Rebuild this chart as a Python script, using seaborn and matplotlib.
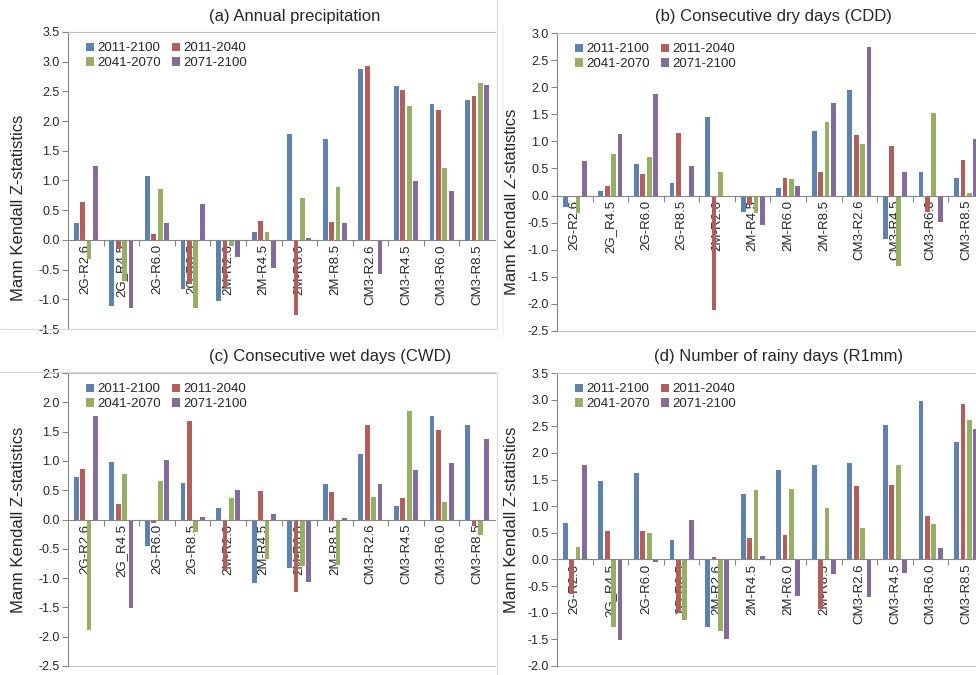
"""Mann Kendall Z-statistics for precipitation indices, four panels."""

import matplotlib
matplotlib.use("Agg")
import matplotlib.pyplot as plt
from matplotlib.lines import Line2D
from matplotlib.ticker import FormatStrFormatter, MultipleLocator
import pandas as pd
import seaborn as sns

CATEGORIES = [
    "2G-R2.6", "2G_R4.5", "2G-R6.0", "2G-R8.5",
    "2M-R2.6", "2M-R4.5", "2M-R6.0", "2M-R8.5",
    "CM3-R2.6", "CM3-R4.5", "CM3-R6.0", "CM3-R8.5",
]
PERIODS = ["2011-2100", "2011-2040", "2041-2070", "2071-2100"]
COLORS = ["#4F81BD", "#C0504D", "#9BBB59", "#8064A2"]

# (a) annual precipitation
annual = {
    "2011-2100": [0.29, -1.11, 1.08, -0.83, -1.03, 0.14, 1.79, 1.70, 2.88, 2.59, 2.29, 2.35],
    "2011-2040": [0.64, -0.15, 0.10, -0.75, -0.80, 0.31, -1.26, 0.30, 2.93, 2.52, 2.18, 2.43],
    "2041-2070": [-0.32, -0.70, 0.85, -1.15, -0.11, 0.14, 0.71, 0.89, -0.02, 2.26, 1.21, 2.64],
    "2071-2100": [1.25, -1.15, 0.28, 0.61, -0.29, -0.47, 0.03, 0.28, -0.58, 0.99, 0.83, 2.60],
}
# (b) consecutive dry days
cdd = {
    "2011-2100": [-0.22, 0.08, 0.58, 0.24, 1.45, -0.31, 0.14, 1.20, 1.94, -0.80, 0.44, 0.33],
    "2011-2040": [0.00, 0.18, 0.40, 1.16, -2.11, -0.17, 0.32, 0.43, 1.11, 0.91, -0.30, 0.65],
    "2041-2070": [-0.33, 0.77, 0.72, 0.00, 0.44, -0.32, 0.30, 1.36, 0.95, -1.30, 1.53, 0.04],
    "2071-2100": [0.63, 1.13, 1.87, 0.55, 0.00, -0.54, 0.18, 1.70, 2.74, 0.44, -0.49, 1.04],
}
# (c) consecutive wet days
cwd = {
    "2011-2100": [0.72, 0.98, -0.45, 0.62, 0.20, -1.09, -0.82, 0.60, 1.12, 0.23, 1.76, 1.62],
    "2011-2040": [0.87, 0.27, -0.06, 1.68, -0.87, 0.48, -1.24, 0.47, 1.62, 0.37, 1.52, -0.11],
    "2041-2070": [-1.88, 0.78, 0.65, -0.22, 0.36, -0.67, -0.80, -0.77, 0.39, 1.85, 0.30, -0.27],
    "2071-2100": [1.76, -1.51, 1.02, 0.05, 0.50, 0.09, -1.06, 0.02, 0.61, 0.85, 0.97, 1.37],
}
# (d) number of rainy days
r1mm = {
    "2011-2100": [0.69, 1.48, 1.63, 0.36, -1.26, 1.22, 1.68, 1.77, 1.81, 2.52, 2.97, 2.20],
    "2011-2040": [-0.64, 0.54, 0.54, -1.00, 0.05, 0.40, 0.45, -0.93, 1.37, 1.39, 0.81, 2.91],
    "2041-2070": [0.24, -1.27, 0.49, -1.13, -1.35, 1.30, 1.32, 0.96, 0.59, 1.78, 0.67, 2.62],
    "2071-2100": [1.77, -1.52, -0.04, 0.74, -1.50, 0.07, -0.69, -0.27, -0.71, -0.25, 0.22, 2.44],
}

PANELS = [
    ("(a) Annual precipitation", annual, (-1.5, 3.5)),
    ("(b) Consecutive dry days (CDD)", cdd, (-2.5, 3.0)),
    ("(c) Consecutive wet days (CWD)", cwd, (-2.5, 2.5)),
    ("(d) Number of rainy days (R1mm)", r1mm, (-2.0, 3.5)),
]

# layout in pixels of the 976x675 canvas: left, top, bottom of each plot area
W, H = 976, 675
BOXES = [(68, 32, 329), (557, 33, 331), (68, 373, 666), (557, 373, 666)]
PLOT_W = 427
TITLE_POS = [(295, 17), (773, 17), (330, 357), (779, 357)]
YLABEL_POS = [(-0.0995, 0.407), (-0.088, 0.433), (-0.0995, 0.5), (-0.088, 0.5)]

GRAY = "#868686"


def to_long(data):
    rows = []
    for period, values in data.items():
        for cat, v in zip(CATEGORIES, values):
            rows.append({"category": cat, "period": period, "z": v})
    return pd.DataFrame(rows)


def main() -> None:
    sns.set_style("white")
    plt.rcParams["font.family"] = ["Liberation Sans", "DejaVu Sans"]

    fig = plt.figure(figsize=(W / 100, H / 100), dpi=100)

    for (title, data, ylim), (left, top, bottom), (tx, ty), (lx, ly) in zip(
        PANELS, BOXES, TITLE_POS, YLABEL_POS
    ):
        ax = fig.add_axes([left / W, 1 - bottom / H, PLOT_W / W, (bottom - top) / H])
        df = to_long(data)
        sns.barplot(
            data=df, x="category", y="z", hue="period",
            order=CATEGORIES, hue_order=PERIODS, palette=COLORS,
            width=0.72, gap=0.25, linewidth=0, ax=ax,
        )
        ax.set_ylim(*ylim)
        ax.set_xlim(-0.5, len(CATEGORIES) - 0.5)
        ax.yaxis.set_major_locator(MultipleLocator(0.5))
        ax.yaxis.set_major_formatter(FormatStrFormatter("%.1f"))
        ax.tick_params(axis="y", labelsize=9, length=4, width=0.8,
                       color=GRAY, pad=2, left=True, direction="out")

        # category axis sits on the zero line
        ax.spines["bottom"].set_position(("data", 0))
        ax.set_xticks(range(len(CATEGORIES)))
        ax.set_xticklabels(CATEGORIES, rotation=90, va="top", ha="center")
        ax.tick_params(axis="x", labelsize=9.5, length=0, pad=3)
        ax.set_xticks([i + 0.5 for i in range(len(CATEGORIES) - 1)], minor=True)
        ax.tick_params(axis="x", which="minor", length=4, width=0.8,
                       color=GRAY, bottom=True, direction="out")

        for side in ["left", "bottom"]:
            ax.spines[side].set_color(GRAY)
            ax.spines[side].set_linewidth(0.8)
        ax.spines["right"].set_visible(False)
        ax.spines["top"].set_color("#BFBFBF")
        ax.spines["top"].set_linewidth(0.8)
        ax.axhline(ylim[0], color="#BFBFBF", lw=0.8, clip_on=False)

        ax.set_xlabel("")
        ax.set_ylabel("Mann Kendall Z-statistics", fontsize=12)
        ax.yaxis.set_label_coords(lx, ly)

        handles, labels = ax.get_legend_handles_labels()
        idx = [0, 2, 1, 3]
        ax.legend(
            [handles[i] for i in idx], [labels[i] for i in idx],
            ncol=2, frameon=False, fontsize=9.5,
            loc="upper left", bbox_to_anchor=(0.015, 1.005),
            handlelength=0.6, handleheight=0.6, handletextpad=0.2,
            columnspacing=0.9, labelspacing=0.2,
        )

        fig.text(tx / W, 1 - ty / H, title, fontsize=12, ha="center", va="center")

    # faint chart-area frames from the original layout
    frame = dict(color="#D9D9D9", lw=0.8)
    fig.add_artist(Line2D([497 / W, 497 / W], [1 - 0 / H, 1 - 329 / H], **frame))
    fig.add_artist(Line2D([0, 497 / W], [1 - 329 / H, 1 - 329 / H], **frame))
    fig.add_artist(Line2D([497 / W, 497 / W], [0, 1 - 372 / H], **frame))
    fig.add_artist(Line2D([0, 497 / W], [1 - 372 / H, 1 - 372 / H], **frame))
    fig.add_artist(Line2D([503 / W, 503 / W], [1 - 25 / H, 1 - 336 / H],
                          color="#EEEEEE", lw=0.8))

    fig.savefig("out.png", dpi=100)


if __name__ == "__main__":
    main()
